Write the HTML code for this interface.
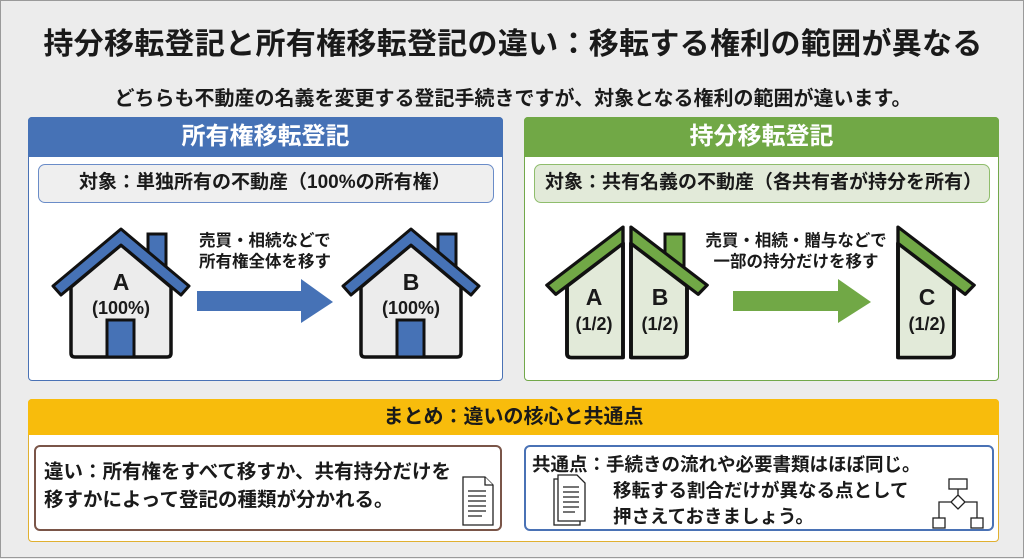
<!DOCTYPE html>
<html><head><meta charset="utf-8"><style>
*{margin:0;padding:0;box-sizing:border-box}
body{width:1024px;height:558px;background:#ececec;font-family:"Liberation Sans","Noto Sans CJK JP",sans-serif;font-weight:bold;color:#1a1a1a;position:relative;overflow:hidden;border:1px solid #9a9a9a}
.abs{position:absolute}
.t{white-space:nowrap}
</style></head><body>
<div class="abs t" style="left:0;width:1024px;top:18px;text-align:center;font-size:30px;letter-spacing:0.3px">持分移転登記と所有権移転登記の違い：移転する権利の範囲が異なる</div>
<div class="abs t" style="left:0;width:1024px;top:81px;text-align:center;font-size:20px">どちらも不動産の名義を変更する登記手続きですが、対象となる権利の範囲が違います。</div>

<!-- left panel -->
<div class="abs" style="left:27px;top:116px;width:475px;height:264px;background:#fff;border:1.5px solid #4a72b5;border-radius:4px"></div>
<div class="abs t" style="left:27px;top:116px;width:475px;height:40px;background:#4672b6;color:#fff;font-size:24px;text-align:center;line-height:40px;border-radius:4px 4px 0 0">所有権移転登記</div>
<div class="abs t" style="left:37px;top:163px;width:456px;height:39px;background:#efefef;border:1.5px solid #6a8cc8;border-radius:7px;font-size:19px;line-height:36px;padding-left:40px">対象：単独所有の不動産（100%の所有権）</div>

<!-- right panel -->
<div class="abs" style="left:523px;top:116px;width:475px;height:264px;background:#fff;border:1.5px solid #72a84a;border-radius:4px"></div>
<div class="abs t" style="left:523px;top:116px;width:475px;height:40px;background:#71a846;color:#fff;font-size:24px;text-align:center;line-height:40px;border-radius:4px 4px 0 0">持分移転登記</div>
<div class="abs t" style="left:533px;top:163px;width:456px;height:39px;background:#e2ead9;border:1.5px solid #8fbd6c;border-radius:7px;font-size:19px;line-height:36px;padding-left:10px">対象：共有名義の不動産（各共有者が持分を所有）</div>

<svg class="abs" style="left:0;top:0" width="1024" height="558">
<defs>
<g id="hb"><rect x="27" y="5" width="18" height="32" fill="#4672b6" stroke="#111" stroke-width="3"/>
<path d="M-50,58 L0,16 L50,58 L50,124 Q50,128 46,128 L-46,128 Q-50,128 -50,124 Z" fill="#ececec" stroke="#111" stroke-width="3.5"/>
<rect x="-14" y="91" width="27" height="37" fill="#4672b6" stroke="#111" stroke-width="3"/>
<path d="M0,0 L68,57 L60,66 L0,16 L-60,66 L-68,57 Z" fill="#4672b6" stroke="#111" stroke-width="3" stroke-linejoin="round"/></g>
<g id="gr"><path d="M0,16 L50,58 L50,124 Q50,128 46,128 L0,128 Z" fill="#e2ead9" stroke="#111" stroke-width="3.5" stroke-linejoin="round"/>
<path d="M0,0 L68,57 L60,66 L0,16 Z" fill="#71a846" stroke="#111" stroke-width="3" stroke-linejoin="round"/></g>
</defs>
<use href="#hb" transform="translate(120,228)"/>
<use href="#hb" transform="translate(410,228)"/>
<polygon points="196,290 300,290 300,278 332,301 300,322 300,310 196,310" fill="#4672b6"/>
<rect x="664" y="233" width="19" height="32" fill="#71a846" stroke="#111" stroke-width="3"/>
<use href="#gr" transform="translate(622,226) scale(-1.12,1.02)"/>
<use href="#gr" transform="translate(630,226) scale(1.12,1.02)"/>
<use href="#gr" transform="translate(897,226) scale(1.12,1.02)"/>
<polygon points="732,290 837,290 837,278 870,301 837,322 837,310 732,310" fill="#71a846"/>
<g font-family="Liberation Sans, sans-serif" font-weight="bold" fill="#1a1a1a" text-anchor="middle">
<text x="120" y="289" font-size="23">A</text><text x="120" y="313" font-size="18">(100%)</text>
<text x="410" y="289" font-size="23">B</text><text x="410" y="313" font-size="18">(100%)</text>
<text x="593" y="304" font-size="23">A</text><text x="593" y="329" font-size="18">(1/2)</text>
<text x="659" y="304" font-size="23">B</text><text x="659" y="329" font-size="18">(1/2)</text>
<text x="926" y="304" font-size="23">C</text><text x="926" y="329" font-size="18">(1/2)</text>
</g>
<g font-family="Liberation Sans, Noto Sans CJK JP, sans-serif" font-weight="bold" font-size="16.5" fill="#1a1a1a">
<text x="198" y="245">売買・相続などで</text><text x="198" y="266">所有権全体を移す</text>
<text x="795" y="245" text-anchor="middle">売買・相続・贈与などで</text><text x="795" y="266" text-anchor="middle">一部の持分だけを移す</text>
</g>
</svg>

<!-- summary -->
<div class="abs" style="left:27px;top:398px;width:971px;height:143px;background:#fff;border:1.5px solid #e0b030;border-radius:4px"></div>
<div class="abs t" style="left:27px;top:398px;width:971px;height:36px;background:#f8bc0c;font-size:20px;text-align:center;line-height:36px;border-radius:4px 4px 0 0">まとめ：違いの核心と共通点</div>
<div class="abs" style="left:33px;top:444px;width:468px;height:86px;border:2px solid #7a5548;border-radius:6px"></div>
<div class="abs t" style="left:43px;top:457px;font-size:19.5px;line-height:28px">違い：所有権をすべて移すか、共有持分だけを<br>移すかによって登記の種類が分かれる。</div>
<div class="abs" style="left:523px;top:444px;width:470px;height:86px;border:2px solid #4a72b5;border-radius:6px"></div>
<div class="abs t" style="left:531px;top:451px;font-size:18.5px;line-height:26px">共通点：手続きの流れや必要書類はほぼ同じ。<br><span style="padding-left:81px">移転する割合だけが異なる点として</span><br><span style="padding-left:81px">押さえておきましょう。</span></div>
<svg class="abs" style="left:0;top:0" width="1024" height="558">
<g fill="#fff" stroke="#222" stroke-width="1.3">
<path d="M462,476 L484,476 L492,484 L492,524 L462,524 Z"/><path d="M484,476 L484,484 L492,484"/>
<path d="M467,490h18M467,495h18M467,500h18M467,505h18M467,510h18M467,515h14"/>
<rect x="553" y="478" width="26" height="46"/><path d="M557,474 L576,474 L584,482 L584,520 L557,520 Z"/>
<path d="M562,486h16M562,491h16M562,496h16M562,501h16M562,506h16M562,511h12"/>
<rect x="948" y="478" width="18" height="10"/><path d="M957,488v6M957,494 l7,7 l-7,7 l-7,-7z M950,501h-12v16 M964,501h12v16"/>
<rect x="932" y="517" width="12" height="10"/><rect x="970" y="517" width="12" height="10"/>
</g></svg>
</body></html>
